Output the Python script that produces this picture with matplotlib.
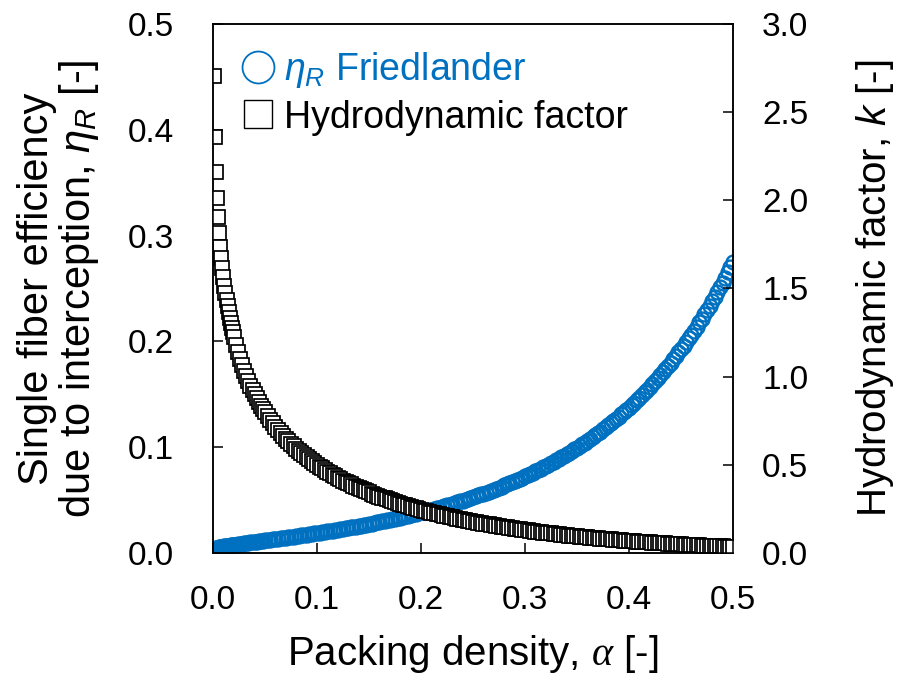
import matplotlib
matplotlib.use("Agg")
import matplotlib.pyplot as plt
from matplotlib.lines import Line2D

plt.rcParams["font.family"] = ["Liberation Sans", "DejaVu Sans"]
plt.rcParams["mathtext.fontset"] = "custom"
plt.rcParams["mathtext.rm"] = "Liberation Sans"
plt.rcParams["mathtext.it"] = "Liberation Sans:italic"
plt.rcParams["mathtext.cal"] = "Liberation Serif:italic"

# packing density alpha [-]
alpha = [
    0.001, 0.002, 0.003, 0.004, 0.005, 0.006, 0.007, 0.008, 0.009, 0.010,
    0.011, 0.012, 0.013, 0.014, 0.015, 0.016, 0.017, 0.018, 0.019, 0.020,
    0.022, 0.024, 0.026, 0.028, 0.030, 0.032, 0.034, 0.036, 0.038, 0.040,
    0.042, 0.044, 0.046, 0.048, 0.050,
    0.0525, 0.055, 0.0575, 0.060, 0.0625, 0.065, 0.0675, 0.070, 0.0725, 0.075,
    0.0775, 0.080, 0.0825, 0.085, 0.0875, 0.090, 0.0925, 0.095, 0.0975, 0.100,
    0.1025, 0.105, 0.1075, 0.110, 0.1125, 0.115, 0.1175, 0.120, 0.1225, 0.125,
    0.1275, 0.130, 0.1325, 0.135, 0.1375, 0.140, 0.1425, 0.145, 0.1475, 0.150,
    0.1525, 0.155, 0.1575, 0.160, 0.1625, 0.165, 0.1675, 0.170, 0.1725, 0.175,
    0.1775, 0.180, 0.1825, 0.185, 0.1875, 0.190, 0.1925, 0.195, 0.1975, 0.200,
    0.2025, 0.205, 0.2075, 0.210, 0.2125, 0.215, 0.2175, 0.220, 0.2225, 0.225,
    0.2275, 0.230, 0.2325, 0.235, 0.2375, 0.240, 0.2425, 0.245, 0.2475, 0.250,
    0.2525, 0.255, 0.2575, 0.260, 0.2625, 0.265, 0.2675, 0.270, 0.2725, 0.275,
    0.2775, 0.280, 0.2825, 0.285, 0.2875, 0.290, 0.2925, 0.295, 0.2975, 0.300,
    0.3025, 0.305, 0.3075, 0.310, 0.3125, 0.315, 0.3175, 0.320, 0.3225, 0.325,
    0.3275, 0.330, 0.3325, 0.335, 0.3375, 0.340, 0.3425, 0.345, 0.3475, 0.350,
    0.3525, 0.355, 0.3575, 0.360, 0.3625, 0.365, 0.3675, 0.370, 0.3725, 0.375,
    0.3775, 0.380, 0.3825, 0.385, 0.3875, 0.390, 0.3925, 0.395, 0.3975, 0.400,
    0.4025, 0.405, 0.4075, 0.410, 0.4125, 0.415, 0.4175, 0.420, 0.4225, 0.425,
    0.4275, 0.430, 0.4325, 0.435, 0.4375, 0.440, 0.4425, 0.445, 0.4475, 0.450,
    0.4525, 0.455, 0.4575, 0.460, 0.4625, 0.465, 0.4675, 0.470, 0.4725, 0.475,
    0.4775, 0.480, 0.4825, 0.485, 0.4875, 0.490, 0.4925, 0.495, 0.4975, 0.500,
]

# single fiber efficiency due to interception (Friedlander), left axis
eta_r = [
    0.0035, 0.0040, 0.0043, 0.0047, 0.0049, 0.0052, 0.0054, 0.0056, 0.0058, 0.0060,
    0.0062, 0.0064, 0.0065, 0.0067, 0.0069, 0.0070, 0.0072, 0.0073, 0.0075, 0.0076,
    0.0079, 0.0082, 0.0085, 0.0088, 0.0091, 0.0093, 0.0096, 0.0099, 0.0102, 0.0104,
    0.0107, 0.0110, 0.0112, 0.0115, 0.0118,
    0.0121, 0.0124, 0.0128, 0.0131, 0.0134, 0.0138, 0.0141, 0.0145, 0.0148, 0.0151,
    0.0155, 0.0158, 0.0162, 0.0166, 0.0169, 0.0173, 0.0177, 0.0180, 0.0184, 0.0188,
    0.0192, 0.0196, 0.0199, 0.0203, 0.0207, 0.0211, 0.0216, 0.0220, 0.0224, 0.0228,
    0.0232, 0.0237, 0.0241, 0.0245, 0.0250, 0.0254, 0.0259, 0.0264, 0.0268, 0.0273,
    0.0278, 0.0283, 0.0288, 0.0293, 0.0298, 0.0303, 0.0308, 0.0314, 0.0319, 0.0324,
    0.0330, 0.0335, 0.0341, 0.0347, 0.0353, 0.0359, 0.0364, 0.0371, 0.0377, 0.0383,
    0.0389, 0.0396, 0.0402, 0.0409, 0.0415, 0.0422, 0.0429, 0.0436, 0.0443, 0.0450,
    0.0457, 0.0465, 0.0472, 0.0480, 0.0488, 0.0495, 0.0503, 0.0511, 0.0520, 0.0528,
    0.0536, 0.0545, 0.0553, 0.0562, 0.0571, 0.0580, 0.0590, 0.0599, 0.0608, 0.0618,
    0.0628, 0.0638, 0.0648, 0.0658, 0.0669, 0.0679, 0.0690, 0.0701, 0.0713, 0.0724,
    0.0735, 0.0747, 0.0759, 0.0771, 0.0783, 0.0795, 0.0808, 0.0821, 0.0834, 0.0847,
    0.0861, 0.0875, 0.0889, 0.0903, 0.0918, 0.0932, 0.0947, 0.0962, 0.0978, 0.0994,
    0.1010, 0.1026, 0.1043, 0.1060, 0.1077, 0.1095, 0.1113, 0.1130, 0.1148, 0.1167,
    0.1186, 0.1206, 0.1226, 0.1246, 0.1266, 0.1287, 0.1309, 0.1331, 0.1352, 0.1374,
    0.1399, 0.1422, 0.1446, 0.1469, 0.1494, 0.1519, 0.1544, 0.1570, 0.1596, 0.1624,
    0.1653, 0.1679, 0.1710, 0.1738, 0.1768, 0.1798, 0.1830, 0.1863, 0.1897, 0.1928,
    0.1960, 0.1994, 0.2028, 0.2064, 0.2101, 0.2139, 0.2179, 0.2215, 0.2258, 0.2297,
    0.2337, 0.2378, 0.2421, 0.2466, 0.2512, 0.2553, 0.2603, 0.2654, 0.2700, 0.2748,
]

# hydrodynamic factor k, right axis
k_factor = [
    2.7049, 2.3593, 2.1576, 2.0147, 1.9042, 1.8140, 1.7379, 1.6722, 1.6143, 1.5626,
    1.5159, 1.4734, 1.4343, 1.3983, 1.3648, 1.3335, 1.3042, 1.2766, 1.2506, 1.2259,
    1.1802, 1.1387, 1.1007, 1.0656, 1.0331, 1.0028, 0.9744, 0.9478, 0.9227, 0.8990,
    0.8766, 0.8553, 0.8350, 0.8157, 0.7972,
    0.7753, 0.7545, 0.7347, 0.7158, 0.6978, 0.6806, 0.6642, 0.6484, 0.6333, 0.6187,
    0.6047, 0.5913, 0.5783, 0.5657, 0.5536, 0.5419, 0.5306, 0.5197, 0.5091, 0.4988,
    0.4888, 0.4791, 0.4697, 0.4606, 0.4517, 0.4431, 0.4347, 0.4265, 0.4186, 0.4108,
    0.4032, 0.3959, 0.3887, 0.3817, 0.3749, 0.3682, 0.3617, 0.3553, 0.3490, 0.3429,
    0.3370, 0.3312, 0.3255, 0.3199, 0.3144, 0.3091, 0.3039, 0.2988, 0.2938, 0.2888,
    0.2840, 0.2793, 0.2747, 0.2701, 0.2657, 0.2613, 0.2571, 0.2529, 0.2488, 0.2447,
    0.2408, 0.2369, 0.2331, 0.2293, 0.2256, 0.2220, 0.2185, 0.2150, 0.2116, 0.2082,
    0.2049, 0.2016, 0.1984, 0.1953, 0.1922, 0.1892, 0.1862, 0.1832, 0.1803, 0.1775,
    0.1747, 0.1720, 0.1693, 0.1666, 0.1640, 0.1615, 0.1589, 0.1564, 0.1540, 0.1516,
    0.1492, 0.1469, 0.1446, 0.1423, 0.1401, 0.1379, 0.1357, 0.1336, 0.1315, 0.1295,
    0.1275, 0.1255, 0.1235, 0.1216, 0.1197, 0.1178, 0.1159, 0.1141, 0.1123, 0.1106,
    0.1088, 0.1071, 0.1054, 0.1038, 0.1021, 0.1005, 0.0989, 0.0974, 0.0958, 0.0943,
    0.0928, 0.0913, 0.0898, 0.0884, 0.0870, 0.0856, 0.0842, 0.0829, 0.0816, 0.0803,
    0.0790, 0.0777, 0.0764, 0.0752, 0.0740, 0.0728, 0.0716, 0.0704, 0.0693, 0.0682,
    0.0670, 0.0659, 0.0648, 0.0638, 0.0627, 0.0617, 0.0607, 0.0597, 0.0587, 0.0577,
    0.0567, 0.0558, 0.0548, 0.0539, 0.0530, 0.0521, 0.0512, 0.0503, 0.0494, 0.0486,
    0.0478, 0.0470, 0.0462, 0.0454, 0.0446, 0.0438, 0.0430, 0.0423, 0.0415, 0.0408,
    0.0401, 0.0394, 0.0387, 0.0380, 0.0373, 0.0367, 0.0360, 0.0353, 0.0347, 0.0341,
]

x_ticks = [0.0, 0.1, 0.2, 0.3, 0.4, 0.5]
left_ticks = [0.0, 0.1, 0.2, 0.3, 0.4, 0.5]
right_ticks = [0.0, 0.5, 1.0, 1.5, 2.0, 2.5, 3.0]

BLUE = "#0070C0"

fig = plt.figure(figsize=(9.01, 6.90), dpi=100)
ax = fig.add_axes([0.2364, 0.1986, 0.5771, 0.7667])
ax2 = ax.twinx()  # drawn after ax, so the squares sit on top of the circles

ax.plot(alpha, eta_r, ls="none", marker="o", ms=10, mfc="none",
        mec=BLUE, mew=1.7)
ax2.plot(alpha, k_factor, ls="none", marker="s", ms=9.5, mfc="white",
         mec="black", mew=1.25)

ax.set_xlim(0, 0.5)
ax.set_ylim(0, 0.5)
ax2.set_ylim(0, 3.0)
ax.set_xticks(x_ticks)
ax.set_yticks(left_ticks)
ax2.set_yticks(right_ticks)
ax.set_xticklabels([f"{v:.1f}" for v in x_ticks])
ax.set_yticklabels([f"{v:.1f}" for v in left_ticks])
ax2.set_yticklabels([f"{v:.1f}" for v in right_ticks])

for a in (ax, ax2):
    for s in a.spines.values():
        s.set_linewidth(1.1)
ax.tick_params(axis="x", direction="in", length=7, width=1.1, labelsize=24, pad=23)
ax.tick_params(axis="y", direction="in", length=7, width=1.1, labelsize=24, pad=28)
ax2.tick_params(axis="y", direction="in", length=7, width=1.1, labelsize=24, pad=21)

ax.set_xlabel(r"Packing density, $\mathcal{\alpha}$ [-]", fontsize=29, labelpad=12)
ax.set_ylabel("Single fiber efficiency\n" r"due to interception, $\eta_R$ [-]",
              fontsize=30, labelpad=19, linespacing=1.0)
ax2.set_ylabel(r"Hydrodynamic factor, $k$ [-]", fontsize=29, labelpad=33)

handles = [
    Line2D([], [], ls="none", marker="o", ms=23, mfc="none", mec=BLUE, mew=1.3),
    Line2D([], [], ls="none", marker="s", ms=20.5, mfc="white", mec="black", mew=1.0),
]
leg = ax2.legend(handles, [r"$\eta_R$ Friedlander", "Hydrodynamic factor"],
                 loc="upper left", bbox_to_anchor=(0.0, 1.0), frameon=False,
                 fontsize=27, handlelength=1.0, handletextpad=0.2,
                 labelspacing=0.25, borderaxespad=0.3)
leg.get_texts()[0].set_color(BLUE)

fig.savefig("out.png", dpi=100)
plt.close(fig)
